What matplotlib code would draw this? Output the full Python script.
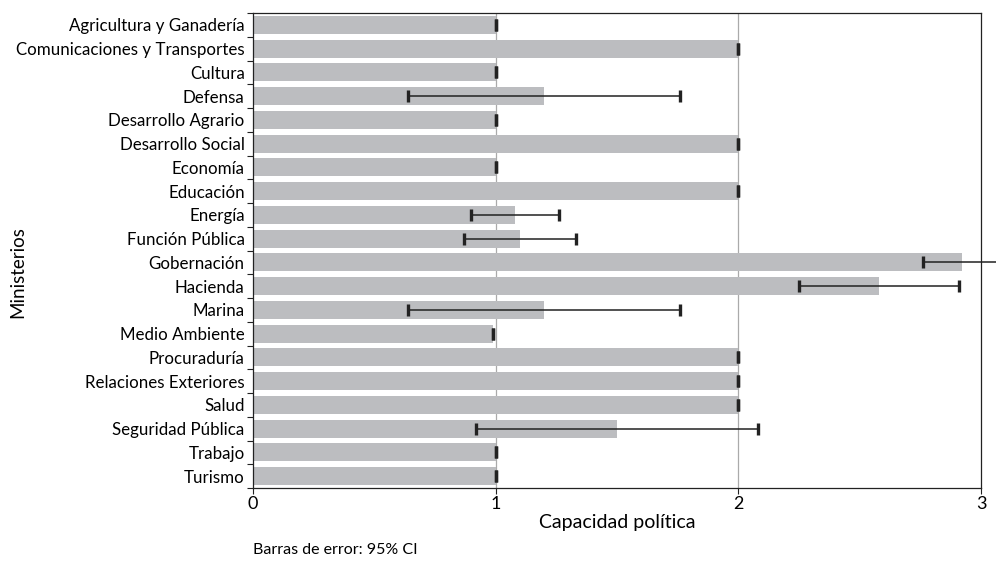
import numpy as np
import matplotlib
matplotlib.use("Agg")
import matplotlib.pyplot as plt

plt.rcParams["font.family"] = ["Lato", "DejaVu Sans"]

ministerios = [
    "Agricultura y Ganadería", "Comunicaciones y Transportes", "Cultura",
    "Defensa", "Desarrollo Agrario", "Desarrollo Social", "Economía",
    "Educación", "Energía", "Función Pública", "Gobernación", "Hacienda",
    "Marina", "Medio Ambiente", "Procuraduría", "Relaciones Exteriores",
    "Salud", "Seguridad Pública", "Trabajo", "Turismo",
]
capacidad = [1.0, 2.0, 1.0, 1.20, 1.0, 2.0, 1.0, 2.0, 1.08, 1.10,
             2.92, 2.58, 1.20, 0.99, 2.0, 2.0, 2.0, 1.50, 1.0, 1.0]
ic95 = [0.0, 0.0, 0.0, 0.56, 0.0, 0.0, 0.0, 0.0, 0.18, 0.23,
        0.16, 0.33, 0.56, 0.0, 0.0, 0.0, 0.0, 0.58, 0.0, 0.0]

fig = plt.figure(figsize=(9.96, 5.65), dpi=100)
ax = fig.add_axes([253/996, 1 - 488/565, (981-253)/996, (488-13)/565])

y = np.arange(len(ministerios))
ax.barh(y, capacidad, height=0.76, color="#bcbdc0", zorder=2)
_, caps, bars = ax.errorbar(capacidad, y, xerr=ic95, fmt="none", ecolor="#222222",
                            elinewidth=1.1, capsize=4, capthick=2.4, zorder=3)
# the Gobernación interval runs past the right edge of the frame
for art in list(caps) + list(bars):
    art.set_clip_on(False)

ax.set_xlim(0, 3)
ax.set_ylim(len(ministerios) - 0.5, -0.5)
ax.set_xticks([0, 1, 2, 3])
ax.set_xticklabels(["0", "1", "2", "3"], fontsize=13)
ax.set_yticks(y)
ax.set_yticklabels(ministerios, fontsize=12.2)
ax.tick_params(axis="y", length=0, pad=6)
ax.set_yticks(np.arange(len(ministerios) + 1) - 0.5, minor=True)
ax.tick_params(axis="y", which="minor", length=4, width=0.8, color="#222222")
ax.tick_params(axis="x", length=4, width=0.8, color="#222222", pad=2)

for v in [1, 2]:
    ax.axvline(v, color="#aaaaaa", lw=0.9, zorder=1)
for s in ax.spines.values():
    s.set_color("#222222")
    s.set_linewidth(0.9)

ax.set_xlabel("Capacidad política", fontsize=14, labelpad=1)
fig.text(9/996, 1 - 272/565, "Ministerios", rotation=90, fontsize=13.5,
         ha="left", va="center")
fig.text(253/996, 1 - 550/565, "Barras de error: 95% CI", fontsize=11.5,
         ha="left", va="center")

fig.savefig("out.png", dpi=100)
